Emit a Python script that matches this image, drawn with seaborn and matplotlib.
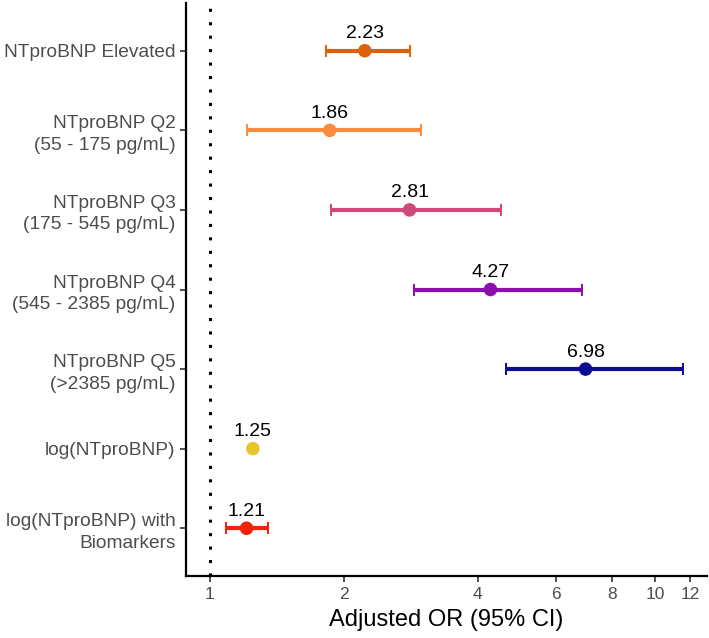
import numpy as np
import pandas as pd
import matplotlib
matplotlib.use("Agg")
import matplotlib.pyplot as plt
import seaborn as sns

labels = ["NTproBNP Elevated",
          "NTproBNP Q2\n(55 - 175 pg/mL)",
          "NTproBNP Q3\n(175 - 545 pg/mL)",
          "NTproBNP Q4\n(545 - 2385 pg/mL)",
          "NTproBNP Q5\n(>2385 pg/mL)",
          "log(NTproBNP)",
          "log(NTproBNP) with\nBiomarkers"]
odds_ratio = [2.23, 1.86, 2.81, 4.27, 6.98, 1.25, 1.21]
ci_low = [1.82, 1.21, 1.87, 2.87, 4.62, np.nan, 1.09]
ci_high = [2.82, 2.98, 4.51, 6.87, 11.57, np.nan, 1.35]
colors = ["#DC6209", "#FB8C3C", "#CF4A7B", "#8D0EAF", "#0D0A93", "#E8C530", "#F5200A"]
x_ticks = [1, 2, 4, 6, 8, 10, 12]

df = pd.DataFrame({"label": labels, "OR": odds_ratio, "lo": ci_low, "hi": ci_high})
df["pos"] = np.arange(len(df))

sns.set_style("white")
plt.rcParams["font.family"] = ["Liberation Sans", "DejaVu Sans"]

fig = plt.figure(figsize=(7.09, 6.38), dpi=100)
ax = fig.add_axes([186 / 709, 62 / 638, (707 - 186) / 709, (635 - 62) / 638])

ax.set_xscale("log")
ax.axvline(1, color="black", lw=2.2, linestyle=(0, (1, 3.4)), zorder=1)

for i, row in df.iterrows():
    if np.isnan(row["lo"]):
        continue
    ax.errorbar(row["OR"], row["pos"],
                xerr=[[row["OR"] - row["lo"]], [row["hi"] - row["OR"]]],
                fmt="none", ecolor=colors[i], elinewidth=3.0, capsize=4.6,
                capthick=1.4, zorder=2)

sns.scatterplot(data=df, x="OR", y="pos", hue="label", palette=colors,
                s=95, linewidth=0, legend=False, ax=ax, zorder=3)

for i, row in df.iterrows():
    ax.annotate(f"{row['OR']:.2f}", (row["OR"], row["pos"]),
                xytext=(0, 9), textcoords="offset points",
                ha="center", va="baseline", fontsize=14, color="black")

lo_lim = 10 ** (np.log10(1) - 0.05 * np.log10(np.nanmax(ci_high)))
hi_lim = 10 ** (np.log10(np.nanmax(ci_high)) * 1.05)
ax.set_xlim(lo_lim, hi_lim)
ax.set_ylim(len(df) - 0.4, -0.6)

ax.set_xticks(x_ticks)
ax.set_xticklabels([str(t) for t in x_ticks])
ax.xaxis.set_minor_locator(matplotlib.ticker.NullLocator())
ax.set_yticks(df["pos"])
ax.set_yticklabels(df["label"])
for lab in ax.get_yticklabels():
    lab.set_linespacing(1.35)

ax.tick_params(axis="y", labelsize=13.8, labelcolor="#4D4D4D", length=4.5,
               width=1.2, color="#333333", pad=3, left=True)
ax.tick_params(axis="x", labelsize=12.5, labelcolor="#4D4D4D", length=4,
               width=1.2, color="#333333", pad=4, bottom=True)

ax.set_xlabel("Adjusted OR (95% CI)", fontsize=17, color="black", labelpad=5)
ax.set_ylabel("")

for side in ["top", "right"]:
    ax.spines[side].set_visible(False)
for side in ["left", "bottom"]:
    ax.spines[side].set_color("black")
    ax.spines[side].set_linewidth(1.6)

fig.savefig("out.png", dpi=100)
